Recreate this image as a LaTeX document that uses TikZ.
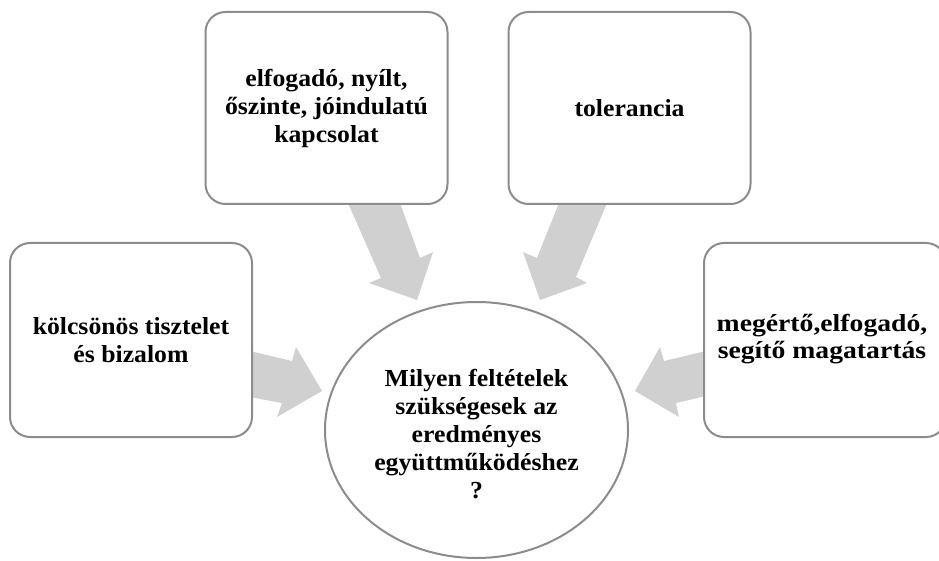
\documentclass[tikz,border=0pt]{standalone}
\usepackage{fontspec}
\usetikzlibrary{shapes.geometric}
\setmainfont{Liberation Serif}[FakeStretch=1.05]
\definecolor{boxgray}{RGB}{140,140,140}
\definecolor{arrowgray}{RGB}{208,208,208}
\begin{document}
\begin{tikzpicture}[x=1pt,y=-1pt,
  box/.style={draw=boxgray, line width=2pt, fill=white, rounded corners=20pt,
    minimum width=242pt, minimum height=192pt, align=center, inner sep=0pt,
    font=\fontsize{24.5}{28}\selectfont\bfseries},
  hub/.style={draw=boxgray, line width=2pt, fill=white, ellipse, minimum width=303pt,
    minimum height=256pt, align=center, inner sep=0pt},
  hubtext/.style={align=center, inner sep=0pt, font=\fontsize{24.5}{27.8}\selectfont\bfseries},
  blockarrow/.style={fill=arrowgray, draw=none}]
\useasboundingbox (0,0) rectangle (939,561);
% block arrows
\fill[blockarrow] (348,203) -- (400,203) -- (420,258) -- (433,252) -- (417,300) -- (369,283) -- (381,278) -- cycle;
\fill[blockarrow] (559,203) -- (607,203) -- (576,277) -- (587,283) -- (540,300) -- (523,252) -- (537,258) -- cycle;
\fill[blockarrow] (250,351) -- (292,361) -- (296,347) -- (322,391) -- (277,417) -- (282,403) -- (250,397) -- cycle;
\fill[blockarrow] (706,351) -- (664,361) -- (660,347) -- (635,391) -- (679,417) -- (676,403) -- (706,396) -- cycle;
% boxes
\node[box] (tl) at (326.5,108) {elfogadó, nyílt,\\őszinte, jóindulatú\\kapcsolat};
\node[box] (tr) at (629.5,108) {tolerancia};
\node[box, minimum height=194pt] (l) at (131,340) {kölcsönös tisztelet\\és bizalom};
\node[box, minimum height=194pt] (r) at (825,340) {};
\node[align=center, inner sep=0pt, font=\fontsize{24.5}{27}\selectfont\bfseries\addfontfeature{FakeStretch=1.13}] (rt) at (822,339) {megértő,elfogadó,\\segítő magatartás};
\node[hub] (c) at (476.5,430) {};
\node[hubtext] (ct) at (476.5,434) {Milyen feltételek\\szükségesek az\\eredményes\\együttműködéshez\\?};
\end{tikzpicture}
\end{document}
